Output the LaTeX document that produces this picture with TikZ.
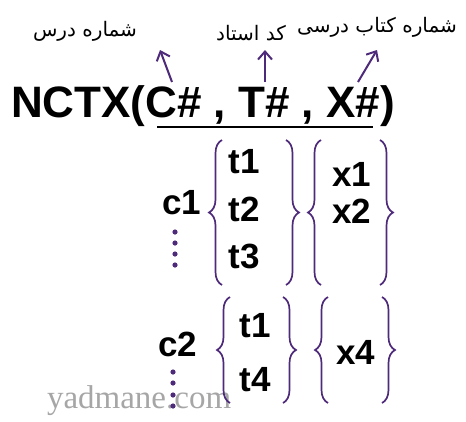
\documentclass[tikz,border=0pt]{standalone}
\usepackage{fontspec}
\setmainfont{Liberation Serif}
\setsansfont{Liberation Sans}
\newfontfamily\fafont[Script=Arabic]{DejaVu Sans}
\TeXXeTstate=1
\usepackage{xcolor}
\usetikzlibrary{arrows.meta, decorations.pathreplacing}
\definecolor{bracepurple}{RGB}{78,42,122}

\begin{document}
\begin{tikzpicture}[
        x=1pt, y=-1pt,
        every node/.style={inner sep=0pt, outer sep=0pt},
        falabel/.style={font=\fafont\fontsize{20}{24}\selectfont},
        relation/.style={font=\sffamily\bfseries\fontsize{44}{48}\selectfont, anchor=base west},
        member/.style={font=\sffamily\bfseries\fontsize{35}{38}\selectfont},
        pointer/.style={draw=bracepurple, line width=2pt, -{Straight Barb[length=8pt, width=14pt, line width=2pt]}},
        keyline/.style={draw=black, line width=2pt},
        brc/.style={draw=bracepurple, line width=1.7pt, decorate, decoration={brace, amplitude=13pt}},
        dotmark/.style={fill=bracepurple, draw=none},
        watermark/.style={font=\rmfamily\fontsize{33}{36}\selectfont, text=gray!70, anchor=base west}
    ]
        \useasboundingbox (0,0) rectangle (466,421);

        % Labels
        \node[falabel] (lesson) at (85,31) {\beginR شماره درس\endR};
        \node[falabel] (teacher) at (251,33) {\beginR کد استاد\endR};
        \node[falabel] (book) at (377,27) {\beginR شماره کتاب درسی\endR};

        % Relation
        \node[relation] (rel) at (11,117) {NCTX(C\# , T\# , X\#)};
        \coordinate (keyL) at (157,127);
        \coordinate (keyR) at (373,127);
        \draw[keyline] (keyL) -- (keyR);

        % Pointers
        \coordinate (cfoot) at (172,82);
        \coordinate (chead) at (160,50);
        \coordinate (tfoot) at (265,82);
        \coordinate (thead) at (265,50);
        \coordinate (xfoot) at (358,82);
        \coordinate (xhead) at (377,50);
        \draw[pointer] (cfoot) -- (chead);
        \draw[pointer] (tfoot) -- (thead);
        \draw[pointer] (xfoot) -- (xhead);

        % Watermark
        \node[watermark] (wm) at (47,408) {yadmane.com};

        % First course
        \node[member] (c1) at (182,203) {c1};
        \node[member] (t1a) at (244,162) {t1};
        \node[member] (t2a) at (244,209) {t2};
        \node[member] (t3a) at (244,256) {t3};
        \node[member] (x1a) at (352,174) {x1};
        \node[member] (x2a) at (352,211) {x2};
        \draw[brc] (222,285) -- (222,140);
        \draw[brc] (286,140) -- (286,285);
        \draw[brc] (321,285) -- (321,140);
        \draw[brc] (380,140) -- (380,285);
        \foreach \y in {232,243,254,265}
            \fill[dotmark] (175,\y) circle (2.6);

        % Second course
        \node[member] (c2) at (178,344) {c2};
        \node[member] (t1b) at (255,326) {t1};
        \node[member] (t4b) at (255,380) {t4};
        \node[member] (x4b) at (356,352) {x4};
        \draw[brc] (230,403) -- (230,297);
        \draw[brc] (283,297) -- (283,403);
        \draw[brc] (328,403) -- (328,297);
        \draw[brc] (382,297) -- (382,403);
        \foreach \y in {372,383,395,406}
            \fill[dotmark] (173,\y) circle (2.6);
    \end{tikzpicture}
\end{document}
